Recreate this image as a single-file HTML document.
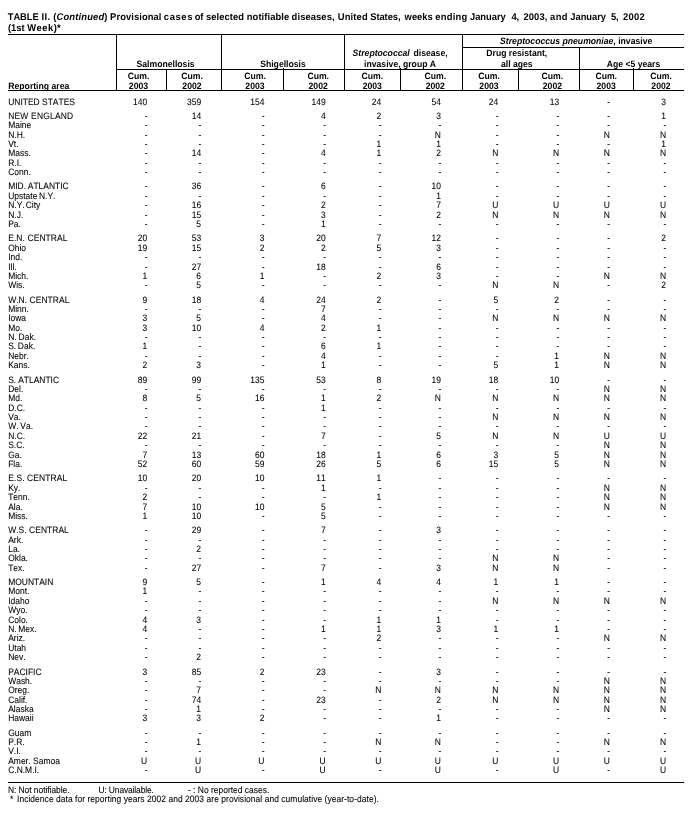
<!DOCTYPE html>
<html><head><meta charset="utf-8"><title>TABLE II</title>
<style>
html,body{margin:0;padding:0;background:#fff}
body{width:695px;height:814px;position:relative;overflow:hidden;font-family:"Liberation Sans",Arial,Helvetica,sans-serif;color:#000;font-size:9.25px;line-height:12px;font-kerning:none;text-rendering:geometricPrecision;-webkit-text-stroke:0.08px #000}
.n,.c,.h,.t,.f{position:absolute;left:0;top:0;white-space:pre;transform-origin:0 0;height:12px}
.c{width:40px;text-align:right;transform-origin:40px 0}
.ln{position:absolute;background:#000}
.h{width:200px;text-align:center;font-weight:bold;font-size:9.2px;transform-origin:100.0px 0;-webkit-text-stroke:0}
.t{font-weight:bold;font-size:9.75px;-webkit-text-stroke:0}
.ra{text-align:left;transform-origin:0 0}
</style></head><body>
<span class="t" style="transform:translate(7.73px,12.00px) rotate(.05deg) scaleX(0.96);letter-spacing:-0.068px">TABLE</span> <span class="t" style="transform:translate(41.58px,12.00px) rotate(.05deg) scaleX(0.96);letter-spacing:0.400px">II.</span> <span class="t" style="transform:translate(53.18px,12.00px) rotate(.05deg) scaleX(0.96);letter-spacing:0.179px">(<i>Continued</i>)</span> <span class="t" style="transform:translate(110.09px,12.00px) rotate(.05deg) scaleX(0.96);letter-spacing:0.096px">Provisional</span> <span class="t" style="transform:translate(163.83px,12.00px) rotate(.05deg) scaleX(0.96);letter-spacing:0.671px">cases</span> <span class="t" style="transform:translate(194.86px,12.00px) rotate(.05deg) scaleX(0.96);letter-spacing:-0.300px">of</span> <span class="t" style="transform:translate(205.97px,12.00px) rotate(.05deg) scaleX(0.96);letter-spacing:0.076px">selected</span> <span class="t" style="transform:translate(246.79px,12.00px) rotate(.05deg) scaleX(0.96);letter-spacing:0.089px">notifiable</span> <span class="t" style="transform:translate(291.63px,12.00px) rotate(.05deg) scaleX(0.96);letter-spacing:0.098px">diseases,</span> <span class="t" style="transform:translate(337.78px,12.00px) rotate(.05deg) scaleX(0.96);letter-spacing:0.168px">United</span> <span class="t" style="transform:translate(370.28px,12.00px) rotate(.05deg) scaleX(0.96);letter-spacing:-0.078px">States,</span> <span class="t" style="transform:translate(404.57px,12.00px) rotate(.05deg) scaleX(0.96);letter-spacing:0.038px">weeks</span> <span class="t" style="transform:translate(435.38px,12.00px) rotate(.05deg) scaleX(0.96);letter-spacing:0.224px">ending</span> <span class="t" style="transform:translate(469.97px,12.00px) rotate(.05deg) scaleX(0.96);letter-spacing:-0.011px">January</span> <span class="t" style="transform:translate(511.56px,12.00px) rotate(.05deg) scaleX(0.96);letter-spacing:-0.300px">4,</span> <span class="t" style="transform:translate(523.46px,12.00px) rotate(.05deg) scaleX(0.96);letter-spacing:0.110px">2003,</span> <span class="t" style="transform:translate(550.12px,12.00px) rotate(.05deg) scaleX(0.96);letter-spacing:0.355px">and</span> <span class="t" style="transform:translate(570.37px,12.00px) rotate(.05deg) scaleX(0.96);letter-spacing:-0.054px">January</span> <span class="t" style="transform:translate(611.06px,12.00px) rotate(.05deg) scaleX(0.96);letter-spacing:-0.300px">5,</span> <span class="t" style="transform:translate(623.06px,12.00px) rotate(.05deg) scaleX(0.96);letter-spacing:0.285px">2002</span>
<span class="t" style="transform:translate(7.90px,23.00px) rotate(.05deg) scaleX(0.96)">(1st</span> <span class="t" style="transform:translate(27.30px,23.00px) rotate(.05deg) scaleX(0.96);letter-spacing:.5px">Week)</span><span class="t" style="transform:translate(57.00px,23.00px) rotate(.05deg) scaleX(0.96)">*</span>
<div class="ln" style="left:8px;top:34px;width:676px;height:1px"></div>
<div class="ln" style="left:8px;top:90px;width:676px;height:1px"></div>
<div class="ln" style="left:116px;top:69px;width:568px;height:1px"></div>
<div class="ln" style="left:462px;top:47px;width:222px;height:1px"></div>
<div class="ln" style="left:8px;top:782px;width:676px;height:1px"></div>
<div class="ln" style="left:116px;top:34px;width:1px;height:57px"></div>
<div class="ln" style="left:221px;top:34px;width:1px;height:57px"></div>
<div class="ln" style="left:344px;top:34px;width:1px;height:57px"></div>
<div class="ln" style="left:462px;top:34px;width:1px;height:57px"></div>
<div class="ln" style="left:579px;top:47px;width:1px;height:44px"></div>
<div class="ln" style="left:166px;top:69px;width:1px;height:22px"></div>
<div class="ln" style="left:283px;top:68px;width:1px;height:23px"></div>
<div class="ln" style="left:400px;top:68px;width:1px;height:23px"></div>
<div class="ln" style="left:518px;top:68px;width:1px;height:23px"></div>
<div class="ln" style="left:633px;top:68px;width:1px;height:23px"></div>
<div class="h" style="transform:translate(65.60px,58.00px) rotate(.05deg) scaleX(0.94)">Salmonellosis</div>
<div class="h" style="transform:translate(183.00px,58.00px) rotate(.05deg) scaleX(0.94)">Shigellosis</div>
<div class="h" style="transform:translate(300.10px,47.00px) rotate(.05deg) scaleX(0.94);word-spacing:1.5px"><i>Streptococcal</i> disease,</div>
<div class="h" style="transform:translate(300.10px,58.00px) rotate(.05deg) scaleX(0.94)">invasive, group A</div>
<div class="h" style="transform:translate(476.20px,35.00px) rotate(.05deg) scaleX(0.94)"><i>Streptococcus pneumoniae</i>, invasive</div>
<div class="h" style="transform:translate(416.80px,47.00px) rotate(.05deg) scaleX(0.94)">Drug resistant,</div>
<div class="h" style="transform:translate(416.80px,58.00px) rotate(.05deg) scaleX(0.94)">all ages</div>
<div class="h" style="transform:translate(533.50px,58.00px) rotate(.05deg) scaleX(0.94)">Age &lt;5 years</div>
<div class="h" style="transform:translate(38.50px,70.00px) rotate(.05deg) scaleX(0.94)">Cum.</div>
<div class="h" style="transform:translate(38.50px,80.00px) rotate(.05deg) scaleX(0.94)">2003</div>
<div class="h" style="transform:translate(92.00px,70.00px) rotate(.05deg) scaleX(0.94)">Cum.</div>
<div class="h" style="transform:translate(92.00px,80.00px) rotate(.05deg) scaleX(0.94)">2002</div>
<div class="h" style="transform:translate(155.00px,70.00px) rotate(.05deg) scaleX(0.94)">Cum.</div>
<div class="h" style="transform:translate(155.00px,80.00px) rotate(.05deg) scaleX(0.94)">2003</div>
<div class="h" style="transform:translate(218.20px,70.00px) rotate(.05deg) scaleX(0.94)">Cum.</div>
<div class="h" style="transform:translate(218.20px,80.00px) rotate(.05deg) scaleX(0.94)">2002</div>
<div class="h" style="transform:translate(272.30px,70.00px) rotate(.05deg) scaleX(0.94)">Cum.</div>
<div class="h" style="transform:translate(272.30px,80.00px) rotate(.05deg) scaleX(0.94)">2003</div>
<div class="h" style="transform:translate(335.30px,70.00px) rotate(.05deg) scaleX(0.94)">Cum.</div>
<div class="h" style="transform:translate(335.30px,80.00px) rotate(.05deg) scaleX(0.94)">2002</div>
<div class="h" style="transform:translate(389.00px,70.00px) rotate(.05deg) scaleX(0.94)">Cum.</div>
<div class="h" style="transform:translate(389.00px,80.00px) rotate(.05deg) scaleX(0.94)">2003</div>
<div class="h" style="transform:translate(452.40px,70.00px) rotate(.05deg) scaleX(0.94)">Cum.</div>
<div class="h" style="transform:translate(452.40px,80.00px) rotate(.05deg) scaleX(0.94)">2002</div>
<div class="h" style="transform:translate(506.20px,70.00px) rotate(.05deg) scaleX(0.94)">Cum.</div>
<div class="h" style="transform:translate(506.20px,80.00px) rotate(.05deg) scaleX(0.94)">2003</div>
<div class="h" style="transform:translate(561.00px,70.00px) rotate(.05deg) scaleX(0.94)">Cum.</div>
<div class="h" style="transform:translate(561.00px,80.00px) rotate(.05deg) scaleX(0.94)">2002</div>
<div class="h ra" style="transform:translate(8.30px,80.00px) rotate(.05deg) scaleX(0.94)">Reporting area</div>
<span class="n" style="transform:translate(8.20px,96.00px) rotate(.05deg) scaleX(0.915)">UNITED STATES</span> <span class="c" style="transform:translate(107.20px,96.00px) rotate(.05deg) scaleX(0.915)">140</span> <span class="c" style="transform:translate(161.10px,96.00px) rotate(.05deg) scaleX(0.915)">359</span> <span class="c" style="transform:translate(224.40px,96.00px) rotate(.05deg) scaleX(0.915)">154</span> <span class="c" style="transform:translate(285.70px,96.00px) rotate(.05deg) scaleX(0.915)">149</span> <span class="c" style="transform:translate(341.30px,96.00px) rotate(.05deg) scaleX(0.915)">24</span> <span class="c" style="transform:translate(401.00px,96.00px) rotate(.05deg) scaleX(0.915)">54</span> <span class="c" style="transform:translate(458.30px,96.00px) rotate(.05deg) scaleX(0.915)">24</span> <span class="c" style="transform:translate(519.10px,96.00px) rotate(.05deg) scaleX(0.915)">13</span> <span class="c" style="transform:translate(570.20px,96.00px) rotate(.05deg) scaleX(0.915)">-</span> <span class="c" style="transform:translate(626.10px,96.00px) rotate(.05deg) scaleX(0.915)">3</span>
<span class="n" style="transform:translate(8.20px,110.00px) rotate(.05deg) scaleX(0.915);letter-spacing:0.219px">NEW ENGLAND</span> <span class="c" style="transform:translate(107.50px,110.00px) rotate(.05deg) scaleX(0.915)">-</span> <span class="c" style="transform:translate(161.10px,110.00px) rotate(.05deg) scaleX(0.915)">14</span> <span class="c" style="transform:translate(224.70px,110.00px) rotate(.05deg) scaleX(0.915)">-</span> <span class="c" style="transform:translate(285.70px,110.00px) rotate(.05deg) scaleX(0.915)">4</span> <span class="c" style="transform:translate(341.30px,110.00px) rotate(.05deg) scaleX(0.915)">2</span> <span class="c" style="transform:translate(401.00px,110.00px) rotate(.05deg) scaleX(0.915)">3</span> <span class="c" style="transform:translate(458.60px,110.00px) rotate(.05deg) scaleX(0.915)">-</span> <span class="c" style="transform:translate(519.40px,110.00px) rotate(.05deg) scaleX(0.915)">-</span> <span class="c" style="transform:translate(570.20px,110.00px) rotate(.05deg) scaleX(0.915)">-</span> <span class="c" style="transform:translate(626.10px,110.00px) rotate(.05deg) scaleX(0.915)">1</span>
<span class="n" style="transform:translate(8.20px,119.00px) rotate(.05deg) scaleX(0.915)">Maine</span> <span class="c" style="transform:translate(107.50px,119.00px) rotate(.05deg) scaleX(0.915)">-</span> <span class="c" style="transform:translate(161.40px,119.00px) rotate(.05deg) scaleX(0.915)">-</span> <span class="c" style="transform:translate(224.70px,119.00px) rotate(.05deg) scaleX(0.915)">-</span> <span class="c" style="transform:translate(286.00px,119.00px) rotate(.05deg) scaleX(0.915)">-</span> <span class="c" style="transform:translate(341.60px,119.00px) rotate(.05deg) scaleX(0.915)">-</span> <span class="c" style="transform:translate(401.30px,119.00px) rotate(.05deg) scaleX(0.915)">-</span> <span class="c" style="transform:translate(458.60px,119.00px) rotate(.05deg) scaleX(0.915)">-</span> <span class="c" style="transform:translate(519.40px,119.00px) rotate(.05deg) scaleX(0.915)">-</span> <span class="c" style="transform:translate(570.20px,119.00px) rotate(.05deg) scaleX(0.915)">-</span> <span class="c" style="transform:translate(626.40px,119.00px) rotate(.05deg) scaleX(0.915)">-</span>
<span class="n" style="transform:translate(8.20px,129.00px) rotate(.05deg) scaleX(0.915)">N.H.</span> <span class="c" style="transform:translate(107.50px,129.00px) rotate(.05deg) scaleX(0.915)">-</span> <span class="c" style="transform:translate(161.40px,129.00px) rotate(.05deg) scaleX(0.915)">-</span> <span class="c" style="transform:translate(224.70px,129.00px) rotate(.05deg) scaleX(0.915)">-</span> <span class="c" style="transform:translate(286.00px,129.00px) rotate(.05deg) scaleX(0.915)">-</span> <span class="c" style="transform:translate(341.60px,129.00px) rotate(.05deg) scaleX(0.915)">-</span> <span class="c" style="transform:translate(401.00px,129.00px) rotate(.05deg) scaleX(0.915)">N</span> <span class="c" style="transform:translate(458.60px,129.00px) rotate(.05deg) scaleX(0.915)">-</span> <span class="c" style="transform:translate(519.40px,129.00px) rotate(.05deg) scaleX(0.915)">-</span> <span class="c" style="transform:translate(569.90px,129.00px) rotate(.05deg) scaleX(0.915)">N</span> <span class="c" style="transform:translate(626.10px,129.00px) rotate(.05deg) scaleX(0.915)">N</span>
<span class="n" style="transform:translate(8.20px,138.00px) rotate(.05deg) scaleX(0.915)">Vt.</span> <span class="c" style="transform:translate(107.50px,138.00px) rotate(.05deg) scaleX(0.915)">-</span> <span class="c" style="transform:translate(161.40px,138.00px) rotate(.05deg) scaleX(0.915)">-</span> <span class="c" style="transform:translate(224.70px,138.00px) rotate(.05deg) scaleX(0.915)">-</span> <span class="c" style="transform:translate(286.00px,138.00px) rotate(.05deg) scaleX(0.915)">-</span> <span class="c" style="transform:translate(341.30px,138.00px) rotate(.05deg) scaleX(0.915)">1</span> <span class="c" style="transform:translate(401.00px,138.00px) rotate(.05deg) scaleX(0.915)">1</span> <span class="c" style="transform:translate(458.60px,138.00px) rotate(.05deg) scaleX(0.915)">-</span> <span class="c" style="transform:translate(519.40px,138.00px) rotate(.05deg) scaleX(0.915)">-</span> <span class="c" style="transform:translate(570.20px,138.00px) rotate(.05deg) scaleX(0.915)">-</span> <span class="c" style="transform:translate(626.10px,138.00px) rotate(.05deg) scaleX(0.915)">1</span>
<span class="n" style="transform:translate(8.20px,147.00px) rotate(.05deg) scaleX(0.915)">Mass.</span> <span class="c" style="transform:translate(107.50px,147.00px) rotate(.05deg) scaleX(0.915)">-</span> <span class="c" style="transform:translate(161.10px,147.00px) rotate(.05deg) scaleX(0.915)">14</span> <span class="c" style="transform:translate(224.70px,147.00px) rotate(.05deg) scaleX(0.915)">-</span> <span class="c" style="transform:translate(285.70px,147.00px) rotate(.05deg) scaleX(0.915)">4</span> <span class="c" style="transform:translate(341.30px,147.00px) rotate(.05deg) scaleX(0.915)">1</span> <span class="c" style="transform:translate(401.00px,147.00px) rotate(.05deg) scaleX(0.915)">2</span> <span class="c" style="transform:translate(458.30px,147.00px) rotate(.05deg) scaleX(0.915)">N</span> <span class="c" style="transform:translate(519.10px,147.00px) rotate(.05deg) scaleX(0.915)">N</span> <span class="c" style="transform:translate(569.90px,147.00px) rotate(.05deg) scaleX(0.915)">N</span> <span class="c" style="transform:translate(626.10px,147.00px) rotate(.05deg) scaleX(0.915)">N</span>
<span class="n" style="transform:translate(8.20px,157.00px) rotate(.05deg) scaleX(0.915)">R.I.</span> <span class="c" style="transform:translate(107.50px,157.00px) rotate(.05deg) scaleX(0.915)">-</span> <span class="c" style="transform:translate(161.40px,157.00px) rotate(.05deg) scaleX(0.915)">-</span> <span class="c" style="transform:translate(224.70px,157.00px) rotate(.05deg) scaleX(0.915)">-</span> <span class="c" style="transform:translate(286.00px,157.00px) rotate(.05deg) scaleX(0.915)">-</span> <span class="c" style="transform:translate(341.60px,157.00px) rotate(.05deg) scaleX(0.915)">-</span> <span class="c" style="transform:translate(401.30px,157.00px) rotate(.05deg) scaleX(0.915)">-</span> <span class="c" style="transform:translate(458.60px,157.00px) rotate(.05deg) scaleX(0.915)">-</span> <span class="c" style="transform:translate(519.40px,157.00px) rotate(.05deg) scaleX(0.915)">-</span> <span class="c" style="transform:translate(570.20px,157.00px) rotate(.05deg) scaleX(0.915)">-</span> <span class="c" style="transform:translate(626.40px,157.00px) rotate(.05deg) scaleX(0.915)">-</span>
<span class="n" style="transform:translate(8.20px,166.00px) rotate(.05deg) scaleX(0.915)">Conn.</span> <span class="c" style="transform:translate(107.50px,166.00px) rotate(.05deg) scaleX(0.915)">-</span> <span class="c" style="transform:translate(161.40px,166.00px) rotate(.05deg) scaleX(0.915)">-</span> <span class="c" style="transform:translate(224.70px,166.00px) rotate(.05deg) scaleX(0.915)">-</span> <span class="c" style="transform:translate(286.00px,166.00px) rotate(.05deg) scaleX(0.915)">-</span> <span class="c" style="transform:translate(341.60px,166.00px) rotate(.05deg) scaleX(0.915)">-</span> <span class="c" style="transform:translate(401.30px,166.00px) rotate(.05deg) scaleX(0.915)">-</span> <span class="c" style="transform:translate(458.60px,166.00px) rotate(.05deg) scaleX(0.915)">-</span> <span class="c" style="transform:translate(519.40px,166.00px) rotate(.05deg) scaleX(0.915)">-</span> <span class="c" style="transform:translate(570.20px,166.00px) rotate(.05deg) scaleX(0.915)">-</span> <span class="c" style="transform:translate(626.40px,166.00px) rotate(.05deg) scaleX(0.915)">-</span>
<span class="n" style="transform:translate(8.20px,180.00px) rotate(.05deg) scaleX(0.915);word-spacing:-0.66px">MID. ATLANTIC</span> <span class="c" style="transform:translate(107.50px,180.00px) rotate(.05deg) scaleX(0.915)">-</span> <span class="c" style="transform:translate(161.10px,180.00px) rotate(.05deg) scaleX(0.915)">36</span> <span class="c" style="transform:translate(224.70px,180.00px) rotate(.05deg) scaleX(0.915)">-</span> <span class="c" style="transform:translate(285.70px,180.00px) rotate(.05deg) scaleX(0.915)">6</span> <span class="c" style="transform:translate(341.60px,180.00px) rotate(.05deg) scaleX(0.915)">-</span> <span class="c" style="transform:translate(401.00px,180.00px) rotate(.05deg) scaleX(0.915)">10</span> <span class="c" style="transform:translate(458.60px,180.00px) rotate(.05deg) scaleX(0.915)">-</span> <span class="c" style="transform:translate(519.40px,180.00px) rotate(.05deg) scaleX(0.915)">-</span> <span class="c" style="transform:translate(570.20px,180.00px) rotate(.05deg) scaleX(0.915)">-</span> <span class="c" style="transform:translate(626.40px,180.00px) rotate(.05deg) scaleX(0.915)">-</span>
<span class="n" style="transform:translate(8.20px,190.00px) rotate(.05deg) scaleX(0.915);word-spacing:-0.87px">Upstate N.Y.</span> <span class="c" style="transform:translate(107.50px,190.00px) rotate(.05deg) scaleX(0.915)">-</span> <span class="c" style="transform:translate(161.40px,190.00px) rotate(.05deg) scaleX(0.915)">-</span> <span class="c" style="transform:translate(224.70px,190.00px) rotate(.05deg) scaleX(0.915)">-</span> <span class="c" style="transform:translate(286.00px,190.00px) rotate(.05deg) scaleX(0.915)">-</span> <span class="c" style="transform:translate(341.60px,190.00px) rotate(.05deg) scaleX(0.915)">-</span> <span class="c" style="transform:translate(401.00px,190.00px) rotate(.05deg) scaleX(0.915)">1</span> <span class="c" style="transform:translate(458.60px,190.00px) rotate(.05deg) scaleX(0.915)">-</span> <span class="c" style="transform:translate(519.40px,190.00px) rotate(.05deg) scaleX(0.915)">-</span> <span class="c" style="transform:translate(570.20px,190.00px) rotate(.05deg) scaleX(0.915)">-</span> <span class="c" style="transform:translate(626.40px,190.00px) rotate(.05deg) scaleX(0.915)">-</span>
<span class="n" style="transform:translate(8.20px,199.00px) rotate(.05deg) scaleX(0.915);word-spacing:-1.42px">N.Y. City</span> <span class="c" style="transform:translate(107.50px,199.00px) rotate(.05deg) scaleX(0.915)">-</span> <span class="c" style="transform:translate(161.10px,199.00px) rotate(.05deg) scaleX(0.915)">16</span> <span class="c" style="transform:translate(224.70px,199.00px) rotate(.05deg) scaleX(0.915)">-</span> <span class="c" style="transform:translate(285.70px,199.00px) rotate(.05deg) scaleX(0.915)">2</span> <span class="c" style="transform:translate(341.60px,199.00px) rotate(.05deg) scaleX(0.915)">-</span> <span class="c" style="transform:translate(401.00px,199.00px) rotate(.05deg) scaleX(0.915)">7</span> <span class="c" style="transform:translate(458.30px,199.00px) rotate(.05deg) scaleX(0.915)">U</span> <span class="c" style="transform:translate(519.10px,199.00px) rotate(.05deg) scaleX(0.915)">U</span> <span class="c" style="transform:translate(569.90px,199.00px) rotate(.05deg) scaleX(0.915)">U</span> <span class="c" style="transform:translate(626.10px,199.00px) rotate(.05deg) scaleX(0.915)">U</span>
<span class="n" style="transform:translate(8.20px,209.00px) rotate(.05deg) scaleX(0.915)">N.J.</span> <span class="c" style="transform:translate(107.50px,209.00px) rotate(.05deg) scaleX(0.915)">-</span> <span class="c" style="transform:translate(161.10px,209.00px) rotate(.05deg) scaleX(0.915)">15</span> <span class="c" style="transform:translate(224.70px,209.00px) rotate(.05deg) scaleX(0.915)">-</span> <span class="c" style="transform:translate(285.70px,209.00px) rotate(.05deg) scaleX(0.915)">3</span> <span class="c" style="transform:translate(341.60px,209.00px) rotate(.05deg) scaleX(0.915)">-</span> <span class="c" style="transform:translate(401.00px,209.00px) rotate(.05deg) scaleX(0.915)">2</span> <span class="c" style="transform:translate(458.30px,209.00px) rotate(.05deg) scaleX(0.915)">N</span> <span class="c" style="transform:translate(519.10px,209.00px) rotate(.05deg) scaleX(0.915)">N</span> <span class="c" style="transform:translate(569.90px,209.00px) rotate(.05deg) scaleX(0.915)">N</span> <span class="c" style="transform:translate(626.10px,209.00px) rotate(.05deg) scaleX(0.915)">N</span>
<span class="n" style="transform:translate(8.20px,218.00px) rotate(.05deg) scaleX(0.915)">Pa.</span> <span class="c" style="transform:translate(107.50px,218.00px) rotate(.05deg) scaleX(0.915)">-</span> <span class="c" style="transform:translate(161.10px,218.00px) rotate(.05deg) scaleX(0.915)">5</span> <span class="c" style="transform:translate(224.70px,218.00px) rotate(.05deg) scaleX(0.915)">-</span> <span class="c" style="transform:translate(285.70px,218.00px) rotate(.05deg) scaleX(0.915)">1</span> <span class="c" style="transform:translate(341.60px,218.00px) rotate(.05deg) scaleX(0.915)">-</span> <span class="c" style="transform:translate(401.30px,218.00px) rotate(.05deg) scaleX(0.915)">-</span> <span class="c" style="transform:translate(458.60px,218.00px) rotate(.05deg) scaleX(0.915)">-</span> <span class="c" style="transform:translate(519.40px,218.00px) rotate(.05deg) scaleX(0.915)">-</span> <span class="c" style="transform:translate(570.20px,218.00px) rotate(.05deg) scaleX(0.915)">-</span> <span class="c" style="transform:translate(626.40px,218.00px) rotate(.05deg) scaleX(0.915)">-</span>
<span class="n" style="transform:translate(8.20px,232.00px) rotate(.05deg) scaleX(0.915);letter-spacing:0.099px">E.N. CENTRAL</span> <span class="c" style="transform:translate(107.20px,232.00px) rotate(.05deg) scaleX(0.915)">20</span> <span class="c" style="transform:translate(161.10px,232.00px) rotate(.05deg) scaleX(0.915)">53</span> <span class="c" style="transform:translate(224.40px,232.00px) rotate(.05deg) scaleX(0.915)">3</span> <span class="c" style="transform:translate(285.70px,232.00px) rotate(.05deg) scaleX(0.915)">20</span> <span class="c" style="transform:translate(341.30px,232.00px) rotate(.05deg) scaleX(0.915)">7</span> <span class="c" style="transform:translate(401.00px,232.00px) rotate(.05deg) scaleX(0.915)">12</span> <span class="c" style="transform:translate(458.60px,232.00px) rotate(.05deg) scaleX(0.915)">-</span> <span class="c" style="transform:translate(519.40px,232.00px) rotate(.05deg) scaleX(0.915)">-</span> <span class="c" style="transform:translate(570.20px,232.00px) rotate(.05deg) scaleX(0.915)">-</span> <span class="c" style="transform:translate(626.10px,232.00px) rotate(.05deg) scaleX(0.915)">2</span>
<span class="n" style="transform:translate(8.20px,242.00px) rotate(.05deg) scaleX(0.915)">Ohio</span> <span class="c" style="transform:translate(107.20px,242.00px) rotate(.05deg) scaleX(0.915)">19</span> <span class="c" style="transform:translate(161.10px,242.00px) rotate(.05deg) scaleX(0.915)">15</span> <span class="c" style="transform:translate(224.40px,242.00px) rotate(.05deg) scaleX(0.915)">2</span> <span class="c" style="transform:translate(285.70px,242.00px) rotate(.05deg) scaleX(0.915)">2</span> <span class="c" style="transform:translate(341.30px,242.00px) rotate(.05deg) scaleX(0.915)">5</span> <span class="c" style="transform:translate(401.00px,242.00px) rotate(.05deg) scaleX(0.915)">3</span> <span class="c" style="transform:translate(458.60px,242.00px) rotate(.05deg) scaleX(0.915)">-</span> <span class="c" style="transform:translate(519.40px,242.00px) rotate(.05deg) scaleX(0.915)">-</span> <span class="c" style="transform:translate(570.20px,242.00px) rotate(.05deg) scaleX(0.915)">-</span> <span class="c" style="transform:translate(626.40px,242.00px) rotate(.05deg) scaleX(0.915)">-</span>
<span class="n" style="transform:translate(8.20px,251.00px) rotate(.05deg) scaleX(0.915)">Ind.</span> <span class="c" style="transform:translate(107.50px,251.00px) rotate(.05deg) scaleX(0.915)">-</span> <span class="c" style="transform:translate(161.40px,251.00px) rotate(.05deg) scaleX(0.915)">-</span> <span class="c" style="transform:translate(224.70px,251.00px) rotate(.05deg) scaleX(0.915)">-</span> <span class="c" style="transform:translate(286.00px,251.00px) rotate(.05deg) scaleX(0.915)">-</span> <span class="c" style="transform:translate(341.60px,251.00px) rotate(.05deg) scaleX(0.915)">-</span> <span class="c" style="transform:translate(401.30px,251.00px) rotate(.05deg) scaleX(0.915)">-</span> <span class="c" style="transform:translate(458.60px,251.00px) rotate(.05deg) scaleX(0.915)">-</span> <span class="c" style="transform:translate(519.40px,251.00px) rotate(.05deg) scaleX(0.915)">-</span> <span class="c" style="transform:translate(570.20px,251.00px) rotate(.05deg) scaleX(0.915)">-</span> <span class="c" style="transform:translate(626.40px,251.00px) rotate(.05deg) scaleX(0.915)">-</span>
<span class="n" style="transform:translate(8.20px,261.00px) rotate(.05deg) scaleX(0.915)">Ill.</span> <span class="c" style="transform:translate(107.50px,261.00px) rotate(.05deg) scaleX(0.915)">-</span> <span class="c" style="transform:translate(161.10px,261.00px) rotate(.05deg) scaleX(0.915)">27</span> <span class="c" style="transform:translate(224.70px,261.00px) rotate(.05deg) scaleX(0.915)">-</span> <span class="c" style="transform:translate(285.70px,261.00px) rotate(.05deg) scaleX(0.915)">18</span> <span class="c" style="transform:translate(341.60px,261.00px) rotate(.05deg) scaleX(0.915)">-</span> <span class="c" style="transform:translate(401.00px,261.00px) rotate(.05deg) scaleX(0.915)">6</span> <span class="c" style="transform:translate(458.60px,261.00px) rotate(.05deg) scaleX(0.915)">-</span> <span class="c" style="transform:translate(519.40px,261.00px) rotate(.05deg) scaleX(0.915)">-</span> <span class="c" style="transform:translate(570.20px,261.00px) rotate(.05deg) scaleX(0.915)">-</span> <span class="c" style="transform:translate(626.40px,261.00px) rotate(.05deg) scaleX(0.915)">-</span>
<span class="n" style="transform:translate(8.20px,270.00px) rotate(.05deg) scaleX(0.915)">Mich.</span> <span class="c" style="transform:translate(107.20px,270.00px) rotate(.05deg) scaleX(0.915)">1</span> <span class="c" style="transform:translate(161.10px,270.00px) rotate(.05deg) scaleX(0.915)">6</span> <span class="c" style="transform:translate(224.40px,270.00px) rotate(.05deg) scaleX(0.915)">1</span> <span class="c" style="transform:translate(286.00px,270.00px) rotate(.05deg) scaleX(0.915)">-</span> <span class="c" style="transform:translate(341.30px,270.00px) rotate(.05deg) scaleX(0.915)">2</span> <span class="c" style="transform:translate(401.00px,270.00px) rotate(.05deg) scaleX(0.915)">3</span> <span class="c" style="transform:translate(458.60px,270.00px) rotate(.05deg) scaleX(0.915)">-</span> <span class="c" style="transform:translate(519.40px,270.00px) rotate(.05deg) scaleX(0.915)">-</span> <span class="c" style="transform:translate(569.90px,270.00px) rotate(.05deg) scaleX(0.915)">N</span> <span class="c" style="transform:translate(626.10px,270.00px) rotate(.05deg) scaleX(0.915)">N</span>
<span class="n" style="transform:translate(8.20px,279.00px) rotate(.05deg) scaleX(0.915)">Wis.</span> <span class="c" style="transform:translate(107.50px,279.00px) rotate(.05deg) scaleX(0.915)">-</span> <span class="c" style="transform:translate(161.10px,279.00px) rotate(.05deg) scaleX(0.915)">5</span> <span class="c" style="transform:translate(224.70px,279.00px) rotate(.05deg) scaleX(0.915)">-</span> <span class="c" style="transform:translate(286.00px,279.00px) rotate(.05deg) scaleX(0.915)">-</span> <span class="c" style="transform:translate(341.60px,279.00px) rotate(.05deg) scaleX(0.915)">-</span> <span class="c" style="transform:translate(401.30px,279.00px) rotate(.05deg) scaleX(0.915)">-</span> <span class="c" style="transform:translate(458.30px,279.00px) rotate(.05deg) scaleX(0.915)">N</span> <span class="c" style="transform:translate(519.10px,279.00px) rotate(.05deg) scaleX(0.915)">N</span> <span class="c" style="transform:translate(570.20px,279.00px) rotate(.05deg) scaleX(0.915)">-</span> <span class="c" style="transform:translate(626.10px,279.00px) rotate(.05deg) scaleX(0.915)">2</span>
<span class="n" style="transform:translate(8.20px,294.00px) rotate(.05deg) scaleX(0.915);letter-spacing:0.050px">W.N. CENTRAL</span> <span class="c" style="transform:translate(107.20px,294.00px) rotate(.05deg) scaleX(0.915)">9</span> <span class="c" style="transform:translate(161.10px,294.00px) rotate(.05deg) scaleX(0.915)">18</span> <span class="c" style="transform:translate(224.40px,294.00px) rotate(.05deg) scaleX(0.915)">4</span> <span class="c" style="transform:translate(285.70px,294.00px) rotate(.05deg) scaleX(0.915)">24</span> <span class="c" style="transform:translate(341.30px,294.00px) rotate(.05deg) scaleX(0.915)">2</span> <span class="c" style="transform:translate(401.30px,294.00px) rotate(.05deg) scaleX(0.915)">-</span> <span class="c" style="transform:translate(458.30px,294.00px) rotate(.05deg) scaleX(0.915)">5</span> <span class="c" style="transform:translate(519.10px,294.00px) rotate(.05deg) scaleX(0.915)">2</span> <span class="c" style="transform:translate(570.20px,294.00px) rotate(.05deg) scaleX(0.915)">-</span> <span class="c" style="transform:translate(626.40px,294.00px) rotate(.05deg) scaleX(0.915)">-</span>
<span class="n" style="transform:translate(8.20px,303.00px) rotate(.05deg) scaleX(0.915)">Minn.</span> <span class="c" style="transform:translate(107.50px,303.00px) rotate(.05deg) scaleX(0.915)">-</span> <span class="c" style="transform:translate(161.40px,303.00px) rotate(.05deg) scaleX(0.915)">-</span> <span class="c" style="transform:translate(224.70px,303.00px) rotate(.05deg) scaleX(0.915)">-</span> <span class="c" style="transform:translate(285.70px,303.00px) rotate(.05deg) scaleX(0.915)">7</span> <span class="c" style="transform:translate(341.60px,303.00px) rotate(.05deg) scaleX(0.915)">-</span> <span class="c" style="transform:translate(401.30px,303.00px) rotate(.05deg) scaleX(0.915)">-</span> <span class="c" style="transform:translate(458.60px,303.00px) rotate(.05deg) scaleX(0.915)">-</span> <span class="c" style="transform:translate(519.40px,303.00px) rotate(.05deg) scaleX(0.915)">-</span> <span class="c" style="transform:translate(570.20px,303.00px) rotate(.05deg) scaleX(0.915)">-</span> <span class="c" style="transform:translate(626.40px,303.00px) rotate(.05deg) scaleX(0.915)">-</span>
<span class="n" style="transform:translate(8.20px,312.00px) rotate(.05deg) scaleX(0.915)">Iowa</span> <span class="c" style="transform:translate(107.20px,312.00px) rotate(.05deg) scaleX(0.915)">3</span> <span class="c" style="transform:translate(161.10px,312.00px) rotate(.05deg) scaleX(0.915)">5</span> <span class="c" style="transform:translate(224.70px,312.00px) rotate(.05deg) scaleX(0.915)">-</span> <span class="c" style="transform:translate(285.70px,312.00px) rotate(.05deg) scaleX(0.915)">4</span> <span class="c" style="transform:translate(341.60px,312.00px) rotate(.05deg) scaleX(0.915)">-</span> <span class="c" style="transform:translate(401.30px,312.00px) rotate(.05deg) scaleX(0.915)">-</span> <span class="c" style="transform:translate(458.30px,312.00px) rotate(.05deg) scaleX(0.915)">N</span> <span class="c" style="transform:translate(519.10px,312.00px) rotate(.05deg) scaleX(0.915)">N</span> <span class="c" style="transform:translate(569.90px,312.00px) rotate(.05deg) scaleX(0.915)">N</span> <span class="c" style="transform:translate(626.10px,312.00px) rotate(.05deg) scaleX(0.915)">N</span>
<span class="n" style="transform:translate(8.20px,322.00px) rotate(.05deg) scaleX(0.915)">Mo.</span> <span class="c" style="transform:translate(107.20px,322.00px) rotate(.05deg) scaleX(0.915)">3</span> <span class="c" style="transform:translate(161.10px,322.00px) rotate(.05deg) scaleX(0.915)">10</span> <span class="c" style="transform:translate(224.40px,322.00px) rotate(.05deg) scaleX(0.915)">4</span> <span class="c" style="transform:translate(285.70px,322.00px) rotate(.05deg) scaleX(0.915)">2</span> <span class="c" style="transform:translate(341.30px,322.00px) rotate(.05deg) scaleX(0.915)">1</span> <span class="c" style="transform:translate(401.30px,322.00px) rotate(.05deg) scaleX(0.915)">-</span> <span class="c" style="transform:translate(458.60px,322.00px) rotate(.05deg) scaleX(0.915)">-</span> <span class="c" style="transform:translate(519.40px,322.00px) rotate(.05deg) scaleX(0.915)">-</span> <span class="c" style="transform:translate(570.20px,322.00px) rotate(.05deg) scaleX(0.915)">-</span> <span class="c" style="transform:translate(626.40px,322.00px) rotate(.05deg) scaleX(0.915)">-</span>
<span class="n" style="transform:translate(8.20px,331.00px) rotate(.05deg) scaleX(0.915);word-spacing:-0.44px">N. Dak.</span> <span class="c" style="transform:translate(107.50px,331.00px) rotate(.05deg) scaleX(0.915)">-</span> <span class="c" style="transform:translate(161.40px,331.00px) rotate(.05deg) scaleX(0.915)">-</span> <span class="c" style="transform:translate(224.70px,331.00px) rotate(.05deg) scaleX(0.915)">-</span> <span class="c" style="transform:translate(286.00px,331.00px) rotate(.05deg) scaleX(0.915)">-</span> <span class="c" style="transform:translate(341.60px,331.00px) rotate(.05deg) scaleX(0.915)">-</span> <span class="c" style="transform:translate(401.30px,331.00px) rotate(.05deg) scaleX(0.915)">-</span> <span class="c" style="transform:translate(458.60px,331.00px) rotate(.05deg) scaleX(0.915)">-</span> <span class="c" style="transform:translate(519.40px,331.00px) rotate(.05deg) scaleX(0.915)">-</span> <span class="c" style="transform:translate(570.20px,331.00px) rotate(.05deg) scaleX(0.915)">-</span> <span class="c" style="transform:translate(626.40px,331.00px) rotate(.05deg) scaleX(0.915)">-</span>
<span class="n" style="transform:translate(8.20px,340.00px) rotate(.05deg) scaleX(0.915);word-spacing:-0.77px">S. Dak.</span> <span class="c" style="transform:translate(107.20px,340.00px) rotate(.05deg) scaleX(0.915)">1</span> <span class="c" style="transform:translate(161.40px,340.00px) rotate(.05deg) scaleX(0.915)">-</span> <span class="c" style="transform:translate(224.70px,340.00px) rotate(.05deg) scaleX(0.915)">-</span> <span class="c" style="transform:translate(285.70px,340.00px) rotate(.05deg) scaleX(0.915)">6</span> <span class="c" style="transform:translate(341.30px,340.00px) rotate(.05deg) scaleX(0.915)">1</span> <span class="c" style="transform:translate(401.30px,340.00px) rotate(.05deg) scaleX(0.915)">-</span> <span class="c" style="transform:translate(458.60px,340.00px) rotate(.05deg) scaleX(0.915)">-</span> <span class="c" style="transform:translate(519.40px,340.00px) rotate(.05deg) scaleX(0.915)">-</span> <span class="c" style="transform:translate(570.20px,340.00px) rotate(.05deg) scaleX(0.915)">-</span> <span class="c" style="transform:translate(626.40px,340.00px) rotate(.05deg) scaleX(0.915)">-</span>
<span class="n" style="transform:translate(8.20px,350.00px) rotate(.05deg) scaleX(0.915)">Nebr.</span> <span class="c" style="transform:translate(107.50px,350.00px) rotate(.05deg) scaleX(0.915)">-</span> <span class="c" style="transform:translate(161.40px,350.00px) rotate(.05deg) scaleX(0.915)">-</span> <span class="c" style="transform:translate(224.70px,350.00px) rotate(.05deg) scaleX(0.915)">-</span> <span class="c" style="transform:translate(285.70px,350.00px) rotate(.05deg) scaleX(0.915)">4</span> <span class="c" style="transform:translate(341.60px,350.00px) rotate(.05deg) scaleX(0.915)">-</span> <span class="c" style="transform:translate(401.30px,350.00px) rotate(.05deg) scaleX(0.915)">-</span> <span class="c" style="transform:translate(458.60px,350.00px) rotate(.05deg) scaleX(0.915)">-</span> <span class="c" style="transform:translate(519.10px,350.00px) rotate(.05deg) scaleX(0.915)">1</span> <span class="c" style="transform:translate(569.90px,350.00px) rotate(.05deg) scaleX(0.915)">N</span> <span class="c" style="transform:translate(626.10px,350.00px) rotate(.05deg) scaleX(0.915)">N</span>
<span class="n" style="transform:translate(8.20px,359.00px) rotate(.05deg) scaleX(0.915)">Kans.</span> <span class="c" style="transform:translate(107.20px,359.00px) rotate(.05deg) scaleX(0.915)">2</span> <span class="c" style="transform:translate(161.10px,359.00px) rotate(.05deg) scaleX(0.915)">3</span> <span class="c" style="transform:translate(224.70px,359.00px) rotate(.05deg) scaleX(0.915)">-</span> <span class="c" style="transform:translate(285.70px,359.00px) rotate(.05deg) scaleX(0.915)">1</span> <span class="c" style="transform:translate(341.60px,359.00px) rotate(.05deg) scaleX(0.915)">-</span> <span class="c" style="transform:translate(401.30px,359.00px) rotate(.05deg) scaleX(0.915)">-</span> <span class="c" style="transform:translate(458.30px,359.00px) rotate(.05deg) scaleX(0.915)">5</span> <span class="c" style="transform:translate(519.10px,359.00px) rotate(.05deg) scaleX(0.915)">1</span> <span class="c" style="transform:translate(569.90px,359.00px) rotate(.05deg) scaleX(0.915)">N</span> <span class="c" style="transform:translate(626.10px,359.00px) rotate(.05deg) scaleX(0.915)">N</span>
<span class="n" style="transform:translate(8.20px,374.00px) rotate(.05deg) scaleX(0.915);word-spacing:-0.44px">S. ATLANTIC</span> <span class="c" style="transform:translate(107.20px,374.00px) rotate(.05deg) scaleX(0.915)">89</span> <span class="c" style="transform:translate(161.10px,374.00px) rotate(.05deg) scaleX(0.915)">99</span> <span class="c" style="transform:translate(224.40px,374.00px) rotate(.05deg) scaleX(0.915)">135</span> <span class="c" style="transform:translate(285.70px,374.00px) rotate(.05deg) scaleX(0.915)">53</span> <span class="c" style="transform:translate(341.30px,374.00px) rotate(.05deg) scaleX(0.915)">8</span> <span class="c" style="transform:translate(401.00px,374.00px) rotate(.05deg) scaleX(0.915)">19</span> <span class="c" style="transform:translate(458.30px,374.00px) rotate(.05deg) scaleX(0.915)">18</span> <span class="c" style="transform:translate(519.10px,374.00px) rotate(.05deg) scaleX(0.915)">10</span> <span class="c" style="transform:translate(570.20px,374.00px) rotate(.05deg) scaleX(0.915)">-</span> <span class="c" style="transform:translate(626.40px,374.00px) rotate(.05deg) scaleX(0.915)">-</span>
<span class="n" style="transform:translate(8.20px,383.00px) rotate(.05deg) scaleX(0.915)">Del.</span> <span class="c" style="transform:translate(107.50px,383.00px) rotate(.05deg) scaleX(0.915)">-</span> <span class="c" style="transform:translate(161.40px,383.00px) rotate(.05deg) scaleX(0.915)">-</span> <span class="c" style="transform:translate(224.70px,383.00px) rotate(.05deg) scaleX(0.915)">-</span> <span class="c" style="transform:translate(286.00px,383.00px) rotate(.05deg) scaleX(0.915)">-</span> <span class="c" style="transform:translate(341.60px,383.00px) rotate(.05deg) scaleX(0.915)">-</span> <span class="c" style="transform:translate(401.30px,383.00px) rotate(.05deg) scaleX(0.915)">-</span> <span class="c" style="transform:translate(458.60px,383.00px) rotate(.05deg) scaleX(0.915)">-</span> <span class="c" style="transform:translate(519.40px,383.00px) rotate(.05deg) scaleX(0.915)">-</span> <span class="c" style="transform:translate(569.90px,383.00px) rotate(.05deg) scaleX(0.915)">N</span> <span class="c" style="transform:translate(626.10px,383.00px) rotate(.05deg) scaleX(0.915)">N</span>
<span class="n" style="transform:translate(8.20px,392.00px) rotate(.05deg) scaleX(0.915)">Md.</span> <span class="c" style="transform:translate(107.20px,392.00px) rotate(.05deg) scaleX(0.915)">8</span> <span class="c" style="transform:translate(161.10px,392.00px) rotate(.05deg) scaleX(0.915)">5</span> <span class="c" style="transform:translate(224.40px,392.00px) rotate(.05deg) scaleX(0.915)">16</span> <span class="c" style="transform:translate(285.70px,392.00px) rotate(.05deg) scaleX(0.915)">1</span> <span class="c" style="transform:translate(341.30px,392.00px) rotate(.05deg) scaleX(0.915)">2</span> <span class="c" style="transform:translate(401.00px,392.00px) rotate(.05deg) scaleX(0.915)">N</span> <span class="c" style="transform:translate(458.30px,392.00px) rotate(.05deg) scaleX(0.915)">N</span> <span class="c" style="transform:translate(519.10px,392.00px) rotate(.05deg) scaleX(0.915)">N</span> <span class="c" style="transform:translate(569.90px,392.00px) rotate(.05deg) scaleX(0.915)">N</span> <span class="c" style="transform:translate(626.10px,392.00px) rotate(.05deg) scaleX(0.915)">N</span>
<span class="n" style="transform:translate(8.20px,402.00px) rotate(.05deg) scaleX(0.915)">D.C.</span> <span class="c" style="transform:translate(107.50px,402.00px) rotate(.05deg) scaleX(0.915)">-</span> <span class="c" style="transform:translate(161.40px,402.00px) rotate(.05deg) scaleX(0.915)">-</span> <span class="c" style="transform:translate(224.70px,402.00px) rotate(.05deg) scaleX(0.915)">-</span> <span class="c" style="transform:translate(285.70px,402.00px) rotate(.05deg) scaleX(0.915)">1</span> <span class="c" style="transform:translate(341.60px,402.00px) rotate(.05deg) scaleX(0.915)">-</span> <span class="c" style="transform:translate(401.30px,402.00px) rotate(.05deg) scaleX(0.915)">-</span> <span class="c" style="transform:translate(458.60px,402.00px) rotate(.05deg) scaleX(0.915)">-</span> <span class="c" style="transform:translate(519.40px,402.00px) rotate(.05deg) scaleX(0.915)">-</span> <span class="c" style="transform:translate(570.20px,402.00px) rotate(.05deg) scaleX(0.915)">-</span> <span class="c" style="transform:translate(626.40px,402.00px) rotate(.05deg) scaleX(0.915)">-</span>
<span class="n" style="transform:translate(8.20px,411.00px) rotate(.05deg) scaleX(0.915)">Va.</span> <span class="c" style="transform:translate(107.50px,411.00px) rotate(.05deg) scaleX(0.915)">-</span> <span class="c" style="transform:translate(161.40px,411.00px) rotate(.05deg) scaleX(0.915)">-</span> <span class="c" style="transform:translate(224.70px,411.00px) rotate(.05deg) scaleX(0.915)">-</span> <span class="c" style="transform:translate(286.00px,411.00px) rotate(.05deg) scaleX(0.915)">-</span> <span class="c" style="transform:translate(341.60px,411.00px) rotate(.05deg) scaleX(0.915)">-</span> <span class="c" style="transform:translate(401.30px,411.00px) rotate(.05deg) scaleX(0.915)">-</span> <span class="c" style="transform:translate(458.30px,411.00px) rotate(.05deg) scaleX(0.915)">N</span> <span class="c" style="transform:translate(519.10px,411.00px) rotate(.05deg) scaleX(0.915)">N</span> <span class="c" style="transform:translate(569.90px,411.00px) rotate(.05deg) scaleX(0.915)">N</span> <span class="c" style="transform:translate(626.10px,411.00px) rotate(.05deg) scaleX(0.915)">N</span>
<span class="n" style="transform:translate(8.20px,420.00px) rotate(.05deg) scaleX(0.915);word-spacing:-0.66px">W. Va.</span> <span class="c" style="transform:translate(107.50px,420.00px) rotate(.05deg) scaleX(0.915)">-</span> <span class="c" style="transform:translate(161.40px,420.00px) rotate(.05deg) scaleX(0.915)">-</span> <span class="c" style="transform:translate(224.70px,420.00px) rotate(.05deg) scaleX(0.915)">-</span> <span class="c" style="transform:translate(286.00px,420.00px) rotate(.05deg) scaleX(0.915)">-</span> <span class="c" style="transform:translate(341.60px,420.00px) rotate(.05deg) scaleX(0.915)">-</span> <span class="c" style="transform:translate(401.30px,420.00px) rotate(.05deg) scaleX(0.915)">-</span> <span class="c" style="transform:translate(458.60px,420.00px) rotate(.05deg) scaleX(0.915)">-</span> <span class="c" style="transform:translate(519.40px,420.00px) rotate(.05deg) scaleX(0.915)">-</span> <span class="c" style="transform:translate(570.20px,420.00px) rotate(.05deg) scaleX(0.915)">-</span> <span class="c" style="transform:translate(626.40px,420.00px) rotate(.05deg) scaleX(0.915)">-</span>
<span class="n" style="transform:translate(8.20px,430.00px) rotate(.05deg) scaleX(0.915)">N.C.</span> <span class="c" style="transform:translate(107.20px,430.00px) rotate(.05deg) scaleX(0.915)">22</span> <span class="c" style="transform:translate(161.10px,430.00px) rotate(.05deg) scaleX(0.915)">21</span> <span class="c" style="transform:translate(224.70px,430.00px) rotate(.05deg) scaleX(0.915)">-</span> <span class="c" style="transform:translate(285.70px,430.00px) rotate(.05deg) scaleX(0.915)">7</span> <span class="c" style="transform:translate(341.60px,430.00px) rotate(.05deg) scaleX(0.915)">-</span> <span class="c" style="transform:translate(401.00px,430.00px) rotate(.05deg) scaleX(0.915)">5</span> <span class="c" style="transform:translate(458.30px,430.00px) rotate(.05deg) scaleX(0.915)">N</span> <span class="c" style="transform:translate(519.10px,430.00px) rotate(.05deg) scaleX(0.915)">N</span> <span class="c" style="transform:translate(569.90px,430.00px) rotate(.05deg) scaleX(0.915)">U</span> <span class="c" style="transform:translate(626.10px,430.00px) rotate(.05deg) scaleX(0.915)">U</span>
<span class="n" style="transform:translate(8.20px,439.00px) rotate(.05deg) scaleX(0.915)">S.C.</span> <span class="c" style="transform:translate(107.50px,439.00px) rotate(.05deg) scaleX(0.915)">-</span> <span class="c" style="transform:translate(161.40px,439.00px) rotate(.05deg) scaleX(0.915)">-</span> <span class="c" style="transform:translate(224.70px,439.00px) rotate(.05deg) scaleX(0.915)">-</span> <span class="c" style="transform:translate(286.00px,439.00px) rotate(.05deg) scaleX(0.915)">-</span> <span class="c" style="transform:translate(341.60px,439.00px) rotate(.05deg) scaleX(0.915)">-</span> <span class="c" style="transform:translate(401.30px,439.00px) rotate(.05deg) scaleX(0.915)">-</span> <span class="c" style="transform:translate(458.60px,439.00px) rotate(.05deg) scaleX(0.915)">-</span> <span class="c" style="transform:translate(519.40px,439.00px) rotate(.05deg) scaleX(0.915)">-</span> <span class="c" style="transform:translate(569.90px,439.00px) rotate(.05deg) scaleX(0.915)">N</span> <span class="c" style="transform:translate(626.10px,439.00px) rotate(.05deg) scaleX(0.915)">N</span>
<span class="n" style="transform:translate(8.20px,449.00px) rotate(.05deg) scaleX(0.915)">Ga.</span> <span class="c" style="transform:translate(107.20px,449.00px) rotate(.05deg) scaleX(0.915)">7</span> <span class="c" style="transform:translate(161.10px,449.00px) rotate(.05deg) scaleX(0.915)">13</span> <span class="c" style="transform:translate(224.40px,449.00px) rotate(.05deg) scaleX(0.915)">60</span> <span class="c" style="transform:translate(285.70px,449.00px) rotate(.05deg) scaleX(0.915)">18</span> <span class="c" style="transform:translate(341.30px,449.00px) rotate(.05deg) scaleX(0.915)">1</span> <span class="c" style="transform:translate(401.00px,449.00px) rotate(.05deg) scaleX(0.915)">6</span> <span class="c" style="transform:translate(458.30px,449.00px) rotate(.05deg) scaleX(0.915)">3</span> <span class="c" style="transform:translate(519.10px,449.00px) rotate(.05deg) scaleX(0.915)">5</span> <span class="c" style="transform:translate(569.90px,449.00px) rotate(.05deg) scaleX(0.915)">N</span> <span class="c" style="transform:translate(626.10px,449.00px) rotate(.05deg) scaleX(0.915)">N</span>
<span class="n" style="transform:translate(8.20px,458.00px) rotate(.05deg) scaleX(0.915)">Fla.</span> <span class="c" style="transform:translate(107.20px,458.00px) rotate(.05deg) scaleX(0.915)">52</span> <span class="c" style="transform:translate(161.10px,458.00px) rotate(.05deg) scaleX(0.915)">60</span> <span class="c" style="transform:translate(224.40px,458.00px) rotate(.05deg) scaleX(0.915)">59</span> <span class="c" style="transform:translate(285.70px,458.00px) rotate(.05deg) scaleX(0.915)">26</span> <span class="c" style="transform:translate(341.30px,458.00px) rotate(.05deg) scaleX(0.915)">5</span> <span class="c" style="transform:translate(401.00px,458.00px) rotate(.05deg) scaleX(0.915)">6</span> <span class="c" style="transform:translate(458.30px,458.00px) rotate(.05deg) scaleX(0.915)">15</span> <span class="c" style="transform:translate(519.10px,458.00px) rotate(.05deg) scaleX(0.915)">5</span> <span class="c" style="transform:translate(569.90px,458.00px) rotate(.05deg) scaleX(0.915)">N</span> <span class="c" style="transform:translate(626.10px,458.00px) rotate(.05deg) scaleX(0.915)">N</span>
<span class="n" style="transform:translate(8.20px,472.00px) rotate(.05deg) scaleX(0.915);letter-spacing:0.119px">E.S. CENTRAL</span> <span class="c" style="transform:translate(107.20px,472.00px) rotate(.05deg) scaleX(0.915)">10</span> <span class="c" style="transform:translate(161.10px,472.00px) rotate(.05deg) scaleX(0.915)">20</span> <span class="c" style="transform:translate(224.40px,472.00px) rotate(.05deg) scaleX(0.915)">10</span> <span class="c" style="transform:translate(285.70px,472.00px) rotate(.05deg) scaleX(0.915)">11</span> <span class="c" style="transform:translate(341.30px,472.00px) rotate(.05deg) scaleX(0.915)">1</span> <span class="c" style="transform:translate(401.30px,472.00px) rotate(.05deg) scaleX(0.915)">-</span> <span class="c" style="transform:translate(458.60px,472.00px) rotate(.05deg) scaleX(0.915)">-</span> <span class="c" style="transform:translate(519.40px,472.00px) rotate(.05deg) scaleX(0.915)">-</span> <span class="c" style="transform:translate(570.20px,472.00px) rotate(.05deg) scaleX(0.915)">-</span> <span class="c" style="transform:translate(626.40px,472.00px) rotate(.05deg) scaleX(0.915)">-</span>
<span class="n" style="transform:translate(8.20px,482.00px) rotate(.05deg) scaleX(0.915)">Ky.</span> <span class="c" style="transform:translate(107.50px,482.00px) rotate(.05deg) scaleX(0.915)">-</span> <span class="c" style="transform:translate(161.40px,482.00px) rotate(.05deg) scaleX(0.915)">-</span> <span class="c" style="transform:translate(224.70px,482.00px) rotate(.05deg) scaleX(0.915)">-</span> <span class="c" style="transform:translate(285.70px,482.00px) rotate(.05deg) scaleX(0.915)">1</span> <span class="c" style="transform:translate(341.60px,482.00px) rotate(.05deg) scaleX(0.915)">-</span> <span class="c" style="transform:translate(401.30px,482.00px) rotate(.05deg) scaleX(0.915)">-</span> <span class="c" style="transform:translate(458.60px,482.00px) rotate(.05deg) scaleX(0.915)">-</span> <span class="c" style="transform:translate(519.40px,482.00px) rotate(.05deg) scaleX(0.915)">-</span> <span class="c" style="transform:translate(569.90px,482.00px) rotate(.05deg) scaleX(0.915)">N</span> <span class="c" style="transform:translate(626.10px,482.00px) rotate(.05deg) scaleX(0.915)">N</span>
<span class="n" style="transform:translate(8.20px,491.00px) rotate(.05deg) scaleX(0.915)">Tenn.</span> <span class="c" style="transform:translate(107.20px,491.00px) rotate(.05deg) scaleX(0.915)">2</span> <span class="c" style="transform:translate(161.40px,491.00px) rotate(.05deg) scaleX(0.915)">-</span> <span class="c" style="transform:translate(224.70px,491.00px) rotate(.05deg) scaleX(0.915)">-</span> <span class="c" style="transform:translate(286.00px,491.00px) rotate(.05deg) scaleX(0.915)">-</span> <span class="c" style="transform:translate(341.30px,491.00px) rotate(.05deg) scaleX(0.915)">1</span> <span class="c" style="transform:translate(401.30px,491.00px) rotate(.05deg) scaleX(0.915)">-</span> <span class="c" style="transform:translate(458.60px,491.00px) rotate(.05deg) scaleX(0.915)">-</span> <span class="c" style="transform:translate(519.40px,491.00px) rotate(.05deg) scaleX(0.915)">-</span> <span class="c" style="transform:translate(569.90px,491.00px) rotate(.05deg) scaleX(0.915)">N</span> <span class="c" style="transform:translate(626.10px,491.00px) rotate(.05deg) scaleX(0.915)">N</span>
<span class="n" style="transform:translate(8.20px,501.00px) rotate(.05deg) scaleX(0.915)">Ala.</span> <span class="c" style="transform:translate(107.20px,501.00px) rotate(.05deg) scaleX(0.915)">7</span> <span class="c" style="transform:translate(161.10px,501.00px) rotate(.05deg) scaleX(0.915)">10</span> <span class="c" style="transform:translate(224.40px,501.00px) rotate(.05deg) scaleX(0.915)">10</span> <span class="c" style="transform:translate(285.70px,501.00px) rotate(.05deg) scaleX(0.915)">5</span> <span class="c" style="transform:translate(341.60px,501.00px) rotate(.05deg) scaleX(0.915)">-</span> <span class="c" style="transform:translate(401.30px,501.00px) rotate(.05deg) scaleX(0.915)">-</span> <span class="c" style="transform:translate(458.60px,501.00px) rotate(.05deg) scaleX(0.915)">-</span> <span class="c" style="transform:translate(519.40px,501.00px) rotate(.05deg) scaleX(0.915)">-</span> <span class="c" style="transform:translate(569.90px,501.00px) rotate(.05deg) scaleX(0.915)">N</span> <span class="c" style="transform:translate(626.10px,501.00px) rotate(.05deg) scaleX(0.915)">N</span>
<span class="n" style="transform:translate(8.20px,510.00px) rotate(.05deg) scaleX(0.915)">Miss.</span> <span class="c" style="transform:translate(107.20px,510.00px) rotate(.05deg) scaleX(0.915)">1</span> <span class="c" style="transform:translate(161.10px,510.00px) rotate(.05deg) scaleX(0.915)">10</span> <span class="c" style="transform:translate(224.70px,510.00px) rotate(.05deg) scaleX(0.915)">-</span> <span class="c" style="transform:translate(285.70px,510.00px) rotate(.05deg) scaleX(0.915)">5</span> <span class="c" style="transform:translate(341.60px,510.00px) rotate(.05deg) scaleX(0.915)">-</span> <span class="c" style="transform:translate(401.30px,510.00px) rotate(.05deg) scaleX(0.915)">-</span> <span class="c" style="transform:translate(458.60px,510.00px) rotate(.05deg) scaleX(0.915)">-</span> <span class="c" style="transform:translate(519.40px,510.00px) rotate(.05deg) scaleX(0.915)">-</span> <span class="c" style="transform:translate(570.20px,510.00px) rotate(.05deg) scaleX(0.915)">-</span> <span class="c" style="transform:translate(626.40px,510.00px) rotate(.05deg) scaleX(0.915)">-</span>
<span class="n" style="transform:translate(8.20px,524.00px) rotate(.05deg) scaleX(0.915);letter-spacing:0.040px">W.S. CENTRAL</span> <span class="c" style="transform:translate(107.50px,524.00px) rotate(.05deg) scaleX(0.915)">-</span> <span class="c" style="transform:translate(161.10px,524.00px) rotate(.05deg) scaleX(0.915)">29</span> <span class="c" style="transform:translate(224.70px,524.00px) rotate(.05deg) scaleX(0.915)">-</span> <span class="c" style="transform:translate(285.70px,524.00px) rotate(.05deg) scaleX(0.915)">7</span> <span class="c" style="transform:translate(341.60px,524.00px) rotate(.05deg) scaleX(0.915)">-</span> <span class="c" style="transform:translate(401.00px,524.00px) rotate(.05deg) scaleX(0.915)">3</span> <span class="c" style="transform:translate(458.60px,524.00px) rotate(.05deg) scaleX(0.915)">-</span> <span class="c" style="transform:translate(519.40px,524.00px) rotate(.05deg) scaleX(0.915)">-</span> <span class="c" style="transform:translate(570.20px,524.00px) rotate(.05deg) scaleX(0.915)">-</span> <span class="c" style="transform:translate(626.40px,524.00px) rotate(.05deg) scaleX(0.915)">-</span>
<span class="n" style="transform:translate(8.20px,534.00px) rotate(.05deg) scaleX(0.915)">Ark.</span> <span class="c" style="transform:translate(107.50px,534.00px) rotate(.05deg) scaleX(0.915)">-</span> <span class="c" style="transform:translate(161.40px,534.00px) rotate(.05deg) scaleX(0.915)">-</span> <span class="c" style="transform:translate(224.70px,534.00px) rotate(.05deg) scaleX(0.915)">-</span> <span class="c" style="transform:translate(286.00px,534.00px) rotate(.05deg) scaleX(0.915)">-</span> <span class="c" style="transform:translate(341.60px,534.00px) rotate(.05deg) scaleX(0.915)">-</span> <span class="c" style="transform:translate(401.30px,534.00px) rotate(.05deg) scaleX(0.915)">-</span> <span class="c" style="transform:translate(458.60px,534.00px) rotate(.05deg) scaleX(0.915)">-</span> <span class="c" style="transform:translate(519.40px,534.00px) rotate(.05deg) scaleX(0.915)">-</span> <span class="c" style="transform:translate(570.20px,534.00px) rotate(.05deg) scaleX(0.915)">-</span> <span class="c" style="transform:translate(626.40px,534.00px) rotate(.05deg) scaleX(0.915)">-</span>
<span class="n" style="transform:translate(8.20px,543.00px) rotate(.05deg) scaleX(0.915)">La.</span> <span class="c" style="transform:translate(107.50px,543.00px) rotate(.05deg) scaleX(0.915)">-</span> <span class="c" style="transform:translate(161.10px,543.00px) rotate(.05deg) scaleX(0.915)">2</span> <span class="c" style="transform:translate(224.70px,543.00px) rotate(.05deg) scaleX(0.915)">-</span> <span class="c" style="transform:translate(286.00px,543.00px) rotate(.05deg) scaleX(0.915)">-</span> <span class="c" style="transform:translate(341.60px,543.00px) rotate(.05deg) scaleX(0.915)">-</span> <span class="c" style="transform:translate(401.30px,543.00px) rotate(.05deg) scaleX(0.915)">-</span> <span class="c" style="transform:translate(458.60px,543.00px) rotate(.05deg) scaleX(0.915)">-</span> <span class="c" style="transform:translate(519.40px,543.00px) rotate(.05deg) scaleX(0.915)">-</span> <span class="c" style="transform:translate(570.20px,543.00px) rotate(.05deg) scaleX(0.915)">-</span> <span class="c" style="transform:translate(626.40px,543.00px) rotate(.05deg) scaleX(0.915)">-</span>
<span class="n" style="transform:translate(8.20px,552.00px) rotate(.05deg) scaleX(0.915)">Okla.</span> <span class="c" style="transform:translate(107.50px,552.00px) rotate(.05deg) scaleX(0.915)">-</span> <span class="c" style="transform:translate(161.40px,552.00px) rotate(.05deg) scaleX(0.915)">-</span> <span class="c" style="transform:translate(224.70px,552.00px) rotate(.05deg) scaleX(0.915)">-</span> <span class="c" style="transform:translate(286.00px,552.00px) rotate(.05deg) scaleX(0.915)">-</span> <span class="c" style="transform:translate(341.60px,552.00px) rotate(.05deg) scaleX(0.915)">-</span> <span class="c" style="transform:translate(401.30px,552.00px) rotate(.05deg) scaleX(0.915)">-</span> <span class="c" style="transform:translate(458.30px,552.00px) rotate(.05deg) scaleX(0.915)">N</span> <span class="c" style="transform:translate(519.10px,552.00px) rotate(.05deg) scaleX(0.915)">N</span> <span class="c" style="transform:translate(570.20px,552.00px) rotate(.05deg) scaleX(0.915)">-</span> <span class="c" style="transform:translate(626.40px,552.00px) rotate(.05deg) scaleX(0.915)">-</span>
<span class="n" style="transform:translate(8.20px,562.00px) rotate(.05deg) scaleX(0.915)">Tex.</span> <span class="c" style="transform:translate(107.50px,562.00px) rotate(.05deg) scaleX(0.915)">-</span> <span class="c" style="transform:translate(161.10px,562.00px) rotate(.05deg) scaleX(0.915)">27</span> <span class="c" style="transform:translate(224.70px,562.00px) rotate(.05deg) scaleX(0.915)">-</span> <span class="c" style="transform:translate(285.70px,562.00px) rotate(.05deg) scaleX(0.915)">7</span> <span class="c" style="transform:translate(341.60px,562.00px) rotate(.05deg) scaleX(0.915)">-</span> <span class="c" style="transform:translate(401.00px,562.00px) rotate(.05deg) scaleX(0.915)">3</span> <span class="c" style="transform:translate(458.30px,562.00px) rotate(.05deg) scaleX(0.915)">N</span> <span class="c" style="transform:translate(519.10px,562.00px) rotate(.05deg) scaleX(0.915)">N</span> <span class="c" style="transform:translate(570.20px,562.00px) rotate(.05deg) scaleX(0.915)">-</span> <span class="c" style="transform:translate(626.40px,562.00px) rotate(.05deg) scaleX(0.915)">-</span>
<span class="n" style="transform:translate(8.20px,576.00px) rotate(.05deg) scaleX(0.915)">MOUNTAIN</span> <span class="c" style="transform:translate(107.20px,576.00px) rotate(.05deg) scaleX(0.915)">9</span> <span class="c" style="transform:translate(161.10px,576.00px) rotate(.05deg) scaleX(0.915)">5</span> <span class="c" style="transform:translate(224.70px,576.00px) rotate(.05deg) scaleX(0.915)">-</span> <span class="c" style="transform:translate(285.70px,576.00px) rotate(.05deg) scaleX(0.915)">1</span> <span class="c" style="transform:translate(341.30px,576.00px) rotate(.05deg) scaleX(0.915)">4</span> <span class="c" style="transform:translate(401.00px,576.00px) rotate(.05deg) scaleX(0.915)">4</span> <span class="c" style="transform:translate(458.30px,576.00px) rotate(.05deg) scaleX(0.915)">1</span> <span class="c" style="transform:translate(519.10px,576.00px) rotate(.05deg) scaleX(0.915)">1</span> <span class="c" style="transform:translate(570.20px,576.00px) rotate(.05deg) scaleX(0.915)">-</span> <span class="c" style="transform:translate(626.40px,576.00px) rotate(.05deg) scaleX(0.915)">-</span>
<span class="n" style="transform:translate(8.20px,585.00px) rotate(.05deg) scaleX(0.915)">Mont.</span> <span class="c" style="transform:translate(107.20px,585.00px) rotate(.05deg) scaleX(0.915)">1</span> <span class="c" style="transform:translate(161.40px,585.00px) rotate(.05deg) scaleX(0.915)">-</span> <span class="c" style="transform:translate(224.70px,585.00px) rotate(.05deg) scaleX(0.915)">-</span> <span class="c" style="transform:translate(286.00px,585.00px) rotate(.05deg) scaleX(0.915)">-</span> <span class="c" style="transform:translate(341.60px,585.00px) rotate(.05deg) scaleX(0.915)">-</span> <span class="c" style="transform:translate(401.30px,585.00px) rotate(.05deg) scaleX(0.915)">-</span> <span class="c" style="transform:translate(458.60px,585.00px) rotate(.05deg) scaleX(0.915)">-</span> <span class="c" style="transform:translate(519.40px,585.00px) rotate(.05deg) scaleX(0.915)">-</span> <span class="c" style="transform:translate(570.20px,585.00px) rotate(.05deg) scaleX(0.915)">-</span> <span class="c" style="transform:translate(626.40px,585.00px) rotate(.05deg) scaleX(0.915)">-</span>
<span class="n" style="transform:translate(8.20px,595.00px) rotate(.05deg) scaleX(0.915)">Idaho</span> <span class="c" style="transform:translate(107.50px,595.00px) rotate(.05deg) scaleX(0.915)">-</span> <span class="c" style="transform:translate(161.40px,595.00px) rotate(.05deg) scaleX(0.915)">-</span> <span class="c" style="transform:translate(224.70px,595.00px) rotate(.05deg) scaleX(0.915)">-</span> <span class="c" style="transform:translate(286.00px,595.00px) rotate(.05deg) scaleX(0.915)">-</span> <span class="c" style="transform:translate(341.60px,595.00px) rotate(.05deg) scaleX(0.915)">-</span> <span class="c" style="transform:translate(401.30px,595.00px) rotate(.05deg) scaleX(0.915)">-</span> <span class="c" style="transform:translate(458.30px,595.00px) rotate(.05deg) scaleX(0.915)">N</span> <span class="c" style="transform:translate(519.10px,595.00px) rotate(.05deg) scaleX(0.915)">N</span> <span class="c" style="transform:translate(569.90px,595.00px) rotate(.05deg) scaleX(0.915)">N</span> <span class="c" style="transform:translate(626.10px,595.00px) rotate(.05deg) scaleX(0.915)">N</span>
<span class="n" style="transform:translate(8.20px,604.00px) rotate(.05deg) scaleX(0.915)">Wyo.</span> <span class="c" style="transform:translate(107.50px,604.00px) rotate(.05deg) scaleX(0.915)">-</span> <span class="c" style="transform:translate(161.40px,604.00px) rotate(.05deg) scaleX(0.915)">-</span> <span class="c" style="transform:translate(224.70px,604.00px) rotate(.05deg) scaleX(0.915)">-</span> <span class="c" style="transform:translate(286.00px,604.00px) rotate(.05deg) scaleX(0.915)">-</span> <span class="c" style="transform:translate(341.60px,604.00px) rotate(.05deg) scaleX(0.915)">-</span> <span class="c" style="transform:translate(401.30px,604.00px) rotate(.05deg) scaleX(0.915)">-</span> <span class="c" style="transform:translate(458.60px,604.00px) rotate(.05deg) scaleX(0.915)">-</span> <span class="c" style="transform:translate(519.40px,604.00px) rotate(.05deg) scaleX(0.915)">-</span> <span class="c" style="transform:translate(570.20px,604.00px) rotate(.05deg) scaleX(0.915)">-</span> <span class="c" style="transform:translate(626.40px,604.00px) rotate(.05deg) scaleX(0.915)">-</span>
<span class="n" style="transform:translate(8.20px,614.00px) rotate(.05deg) scaleX(0.915)">Colo.</span> <span class="c" style="transform:translate(107.20px,614.00px) rotate(.05deg) scaleX(0.915)">4</span> <span class="c" style="transform:translate(161.10px,614.00px) rotate(.05deg) scaleX(0.915)">3</span> <span class="c" style="transform:translate(224.70px,614.00px) rotate(.05deg) scaleX(0.915)">-</span> <span class="c" style="transform:translate(286.00px,614.00px) rotate(.05deg) scaleX(0.915)">-</span> <span class="c" style="transform:translate(341.30px,614.00px) rotate(.05deg) scaleX(0.915)">1</span> <span class="c" style="transform:translate(401.00px,614.00px) rotate(.05deg) scaleX(0.915)">1</span> <span class="c" style="transform:translate(458.60px,614.00px) rotate(.05deg) scaleX(0.915)">-</span> <span class="c" style="transform:translate(519.40px,614.00px) rotate(.05deg) scaleX(0.915)">-</span> <span class="c" style="transform:translate(570.20px,614.00px) rotate(.05deg) scaleX(0.915)">-</span> <span class="c" style="transform:translate(626.40px,614.00px) rotate(.05deg) scaleX(0.915)">-</span>
<span class="n" style="transform:translate(8.20px,623.00px) rotate(.05deg) scaleX(0.915);word-spacing:-0.87px">N. Mex.</span> <span class="c" style="transform:translate(107.20px,623.00px) rotate(.05deg) scaleX(0.915)">4</span> <span class="c" style="transform:translate(161.40px,623.00px) rotate(.05deg) scaleX(0.915)">-</span> <span class="c" style="transform:translate(224.70px,623.00px) rotate(.05deg) scaleX(0.915)">-</span> <span class="c" style="transform:translate(285.70px,623.00px) rotate(.05deg) scaleX(0.915)">1</span> <span class="c" style="transform:translate(341.30px,623.00px) rotate(.05deg) scaleX(0.915)">1</span> <span class="c" style="transform:translate(401.00px,623.00px) rotate(.05deg) scaleX(0.915)">3</span> <span class="c" style="transform:translate(458.30px,623.00px) rotate(.05deg) scaleX(0.915)">1</span> <span class="c" style="transform:translate(519.10px,623.00px) rotate(.05deg) scaleX(0.915)">1</span> <span class="c" style="transform:translate(570.20px,623.00px) rotate(.05deg) scaleX(0.915)">-</span> <span class="c" style="transform:translate(626.40px,623.00px) rotate(.05deg) scaleX(0.915)">-</span>
<span class="n" style="transform:translate(8.20px,632.00px) rotate(.05deg) scaleX(0.915)">Ariz.</span> <span class="c" style="transform:translate(107.50px,632.00px) rotate(.05deg) scaleX(0.915)">-</span> <span class="c" style="transform:translate(161.40px,632.00px) rotate(.05deg) scaleX(0.915)">-</span> <span class="c" style="transform:translate(224.70px,632.00px) rotate(.05deg) scaleX(0.915)">-</span> <span class="c" style="transform:translate(286.00px,632.00px) rotate(.05deg) scaleX(0.915)">-</span> <span class="c" style="transform:translate(341.30px,632.00px) rotate(.05deg) scaleX(0.915)">2</span> <span class="c" style="transform:translate(401.30px,632.00px) rotate(.05deg) scaleX(0.915)">-</span> <span class="c" style="transform:translate(458.60px,632.00px) rotate(.05deg) scaleX(0.915)">-</span> <span class="c" style="transform:translate(519.40px,632.00px) rotate(.05deg) scaleX(0.915)">-</span> <span class="c" style="transform:translate(569.90px,632.00px) rotate(.05deg) scaleX(0.915)">N</span> <span class="c" style="transform:translate(626.10px,632.00px) rotate(.05deg) scaleX(0.915)">N</span>
<span class="n" style="transform:translate(8.20px,642.00px) rotate(.05deg) scaleX(0.915)">Utah</span> <span class="c" style="transform:translate(107.50px,642.00px) rotate(.05deg) scaleX(0.915)">-</span> <span class="c" style="transform:translate(161.40px,642.00px) rotate(.05deg) scaleX(0.915)">-</span> <span class="c" style="transform:translate(224.70px,642.00px) rotate(.05deg) scaleX(0.915)">-</span> <span class="c" style="transform:translate(286.00px,642.00px) rotate(.05deg) scaleX(0.915)">-</span> <span class="c" style="transform:translate(341.60px,642.00px) rotate(.05deg) scaleX(0.915)">-</span> <span class="c" style="transform:translate(401.30px,642.00px) rotate(.05deg) scaleX(0.915)">-</span> <span class="c" style="transform:translate(458.60px,642.00px) rotate(.05deg) scaleX(0.915)">-</span> <span class="c" style="transform:translate(519.40px,642.00px) rotate(.05deg) scaleX(0.915)">-</span> <span class="c" style="transform:translate(570.20px,642.00px) rotate(.05deg) scaleX(0.915)">-</span> <span class="c" style="transform:translate(626.40px,642.00px) rotate(.05deg) scaleX(0.915)">-</span>
<span class="n" style="transform:translate(8.20px,651.00px) rotate(.05deg) scaleX(0.915)">Nev.</span> <span class="c" style="transform:translate(107.50px,651.00px) rotate(.05deg) scaleX(0.915)">-</span> <span class="c" style="transform:translate(161.10px,651.00px) rotate(.05deg) scaleX(0.915)">2</span> <span class="c" style="transform:translate(224.70px,651.00px) rotate(.05deg) scaleX(0.915)">-</span> <span class="c" style="transform:translate(286.00px,651.00px) rotate(.05deg) scaleX(0.915)">-</span> <span class="c" style="transform:translate(341.60px,651.00px) rotate(.05deg) scaleX(0.915)">-</span> <span class="c" style="transform:translate(401.30px,651.00px) rotate(.05deg) scaleX(0.915)">-</span> <span class="c" style="transform:translate(458.60px,651.00px) rotate(.05deg) scaleX(0.915)">-</span> <span class="c" style="transform:translate(519.40px,651.00px) rotate(.05deg) scaleX(0.915)">-</span> <span class="c" style="transform:translate(570.20px,651.00px) rotate(.05deg) scaleX(0.915)">-</span> <span class="c" style="transform:translate(626.40px,651.00px) rotate(.05deg) scaleX(0.915)">-</span>
<span class="n" style="transform:translate(8.20px,666.00px) rotate(.05deg) scaleX(0.915)">PACIFIC</span> <span class="c" style="transform:translate(107.20px,666.00px) rotate(.05deg) scaleX(0.915)">3</span> <span class="c" style="transform:translate(161.10px,666.00px) rotate(.05deg) scaleX(0.915)">85</span> <span class="c" style="transform:translate(224.40px,666.00px) rotate(.05deg) scaleX(0.915)">2</span> <span class="c" style="transform:translate(285.70px,666.00px) rotate(.05deg) scaleX(0.915)">23</span> <span class="c" style="transform:translate(341.60px,666.00px) rotate(.05deg) scaleX(0.915)">-</span> <span class="c" style="transform:translate(401.00px,666.00px) rotate(.05deg) scaleX(0.915)">3</span> <span class="c" style="transform:translate(458.60px,666.00px) rotate(.05deg) scaleX(0.915)">-</span> <span class="c" style="transform:translate(519.40px,666.00px) rotate(.05deg) scaleX(0.915)">-</span> <span class="c" style="transform:translate(570.20px,666.00px) rotate(.05deg) scaleX(0.915)">-</span> <span class="c" style="transform:translate(626.40px,666.00px) rotate(.05deg) scaleX(0.915)">-</span>
<span class="n" style="transform:translate(8.20px,675.00px) rotate(.05deg) scaleX(0.915)">Wash.</span> <span class="c" style="transform:translate(107.50px,675.00px) rotate(.05deg) scaleX(0.915)">-</span> <span class="c" style="transform:translate(161.40px,675.00px) rotate(.05deg) scaleX(0.915)">-</span> <span class="c" style="transform:translate(224.70px,675.00px) rotate(.05deg) scaleX(0.915)">-</span> <span class="c" style="transform:translate(286.00px,675.00px) rotate(.05deg) scaleX(0.915)">-</span> <span class="c" style="transform:translate(341.60px,675.00px) rotate(.05deg) scaleX(0.915)">-</span> <span class="c" style="transform:translate(401.30px,675.00px) rotate(.05deg) scaleX(0.915)">-</span> <span class="c" style="transform:translate(458.60px,675.00px) rotate(.05deg) scaleX(0.915)">-</span> <span class="c" style="transform:translate(519.40px,675.00px) rotate(.05deg) scaleX(0.915)">-</span> <span class="c" style="transform:translate(569.90px,675.00px) rotate(.05deg) scaleX(0.915)">N</span> <span class="c" style="transform:translate(626.10px,675.00px) rotate(.05deg) scaleX(0.915)">N</span>
<span class="n" style="transform:translate(8.20px,684.00px) rotate(.05deg) scaleX(0.915)">Oreg.</span> <span class="c" style="transform:translate(107.50px,684.00px) rotate(.05deg) scaleX(0.915)">-</span> <span class="c" style="transform:translate(161.10px,684.00px) rotate(.05deg) scaleX(0.915)">7</span> <span class="c" style="transform:translate(224.70px,684.00px) rotate(.05deg) scaleX(0.915)">-</span> <span class="c" style="transform:translate(286.00px,684.00px) rotate(.05deg) scaleX(0.915)">-</span> <span class="c" style="transform:translate(341.30px,684.00px) rotate(.05deg) scaleX(0.915)">N</span> <span class="c" style="transform:translate(401.00px,684.00px) rotate(.05deg) scaleX(0.915)">N</span> <span class="c" style="transform:translate(458.30px,684.00px) rotate(.05deg) scaleX(0.915)">N</span> <span class="c" style="transform:translate(519.10px,684.00px) rotate(.05deg) scaleX(0.915)">N</span> <span class="c" style="transform:translate(569.90px,684.00px) rotate(.05deg) scaleX(0.915)">N</span> <span class="c" style="transform:translate(626.10px,684.00px) rotate(.05deg) scaleX(0.915)">N</span>
<span class="n" style="transform:translate(8.20px,694.00px) rotate(.05deg) scaleX(0.915)">Calif.</span> <span class="c" style="transform:translate(107.50px,694.00px) rotate(.05deg) scaleX(0.915)">-</span> <span class="c" style="transform:translate(161.10px,694.00px) rotate(.05deg) scaleX(0.915)">74</span> <span class="c" style="transform:translate(224.70px,694.00px) rotate(.05deg) scaleX(0.915)">-</span> <span class="c" style="transform:translate(285.70px,694.00px) rotate(.05deg) scaleX(0.915)">23</span> <span class="c" style="transform:translate(341.60px,694.00px) rotate(.05deg) scaleX(0.915)">-</span> <span class="c" style="transform:translate(401.00px,694.00px) rotate(.05deg) scaleX(0.915)">2</span> <span class="c" style="transform:translate(458.30px,694.00px) rotate(.05deg) scaleX(0.915)">N</span> <span class="c" style="transform:translate(519.10px,694.00px) rotate(.05deg) scaleX(0.915)">N</span> <span class="c" style="transform:translate(569.90px,694.00px) rotate(.05deg) scaleX(0.915)">N</span> <span class="c" style="transform:translate(626.10px,694.00px) rotate(.05deg) scaleX(0.915)">N</span>
<span class="n" style="transform:translate(8.20px,703.00px) rotate(.05deg) scaleX(0.915)">Alaska</span> <span class="c" style="transform:translate(107.50px,703.00px) rotate(.05deg) scaleX(0.915)">-</span> <span class="c" style="transform:translate(161.10px,703.00px) rotate(.05deg) scaleX(0.915)">1</span> <span class="c" style="transform:translate(224.70px,703.00px) rotate(.05deg) scaleX(0.915)">-</span> <span class="c" style="transform:translate(286.00px,703.00px) rotate(.05deg) scaleX(0.915)">-</span> <span class="c" style="transform:translate(341.60px,703.00px) rotate(.05deg) scaleX(0.915)">-</span> <span class="c" style="transform:translate(401.30px,703.00px) rotate(.05deg) scaleX(0.915)">-</span> <span class="c" style="transform:translate(458.60px,703.00px) rotate(.05deg) scaleX(0.915)">-</span> <span class="c" style="transform:translate(519.40px,703.00px) rotate(.05deg) scaleX(0.915)">-</span> <span class="c" style="transform:translate(569.90px,703.00px) rotate(.05deg) scaleX(0.915)">N</span> <span class="c" style="transform:translate(626.10px,703.00px) rotate(.05deg) scaleX(0.915)">N</span>
<span class="n" style="transform:translate(8.20px,712.00px) rotate(.05deg) scaleX(0.915)">Hawaii</span> <span class="c" style="transform:translate(107.20px,712.00px) rotate(.05deg) scaleX(0.915)">3</span> <span class="c" style="transform:translate(161.10px,712.00px) rotate(.05deg) scaleX(0.915)">3</span> <span class="c" style="transform:translate(224.40px,712.00px) rotate(.05deg) scaleX(0.915)">2</span> <span class="c" style="transform:translate(286.00px,712.00px) rotate(.05deg) scaleX(0.915)">-</span> <span class="c" style="transform:translate(341.60px,712.00px) rotate(.05deg) scaleX(0.915)">-</span> <span class="c" style="transform:translate(401.00px,712.00px) rotate(.05deg) scaleX(0.915)">1</span> <span class="c" style="transform:translate(458.60px,712.00px) rotate(.05deg) scaleX(0.915)">-</span> <span class="c" style="transform:translate(519.40px,712.00px) rotate(.05deg) scaleX(0.915)">-</span> <span class="c" style="transform:translate(570.20px,712.00px) rotate(.05deg) scaleX(0.915)">-</span> <span class="c" style="transform:translate(626.40px,712.00px) rotate(.05deg) scaleX(0.915)">-</span>
<span class="n" style="transform:translate(8.20px,727.00px) rotate(.05deg) scaleX(0.915)">Guam</span> <span class="c" style="transform:translate(107.50px,727.00px) rotate(.05deg) scaleX(0.915)">-</span> <span class="c" style="transform:translate(161.40px,727.00px) rotate(.05deg) scaleX(0.915)">-</span> <span class="c" style="transform:translate(224.70px,727.00px) rotate(.05deg) scaleX(0.915)">-</span> <span class="c" style="transform:translate(286.00px,727.00px) rotate(.05deg) scaleX(0.915)">-</span> <span class="c" style="transform:translate(341.60px,727.00px) rotate(.05deg) scaleX(0.915)">-</span> <span class="c" style="transform:translate(401.30px,727.00px) rotate(.05deg) scaleX(0.915)">-</span> <span class="c" style="transform:translate(458.60px,727.00px) rotate(.05deg) scaleX(0.915)">-</span> <span class="c" style="transform:translate(519.40px,727.00px) rotate(.05deg) scaleX(0.915)">-</span> <span class="c" style="transform:translate(570.20px,727.00px) rotate(.05deg) scaleX(0.915)">-</span> <span class="c" style="transform:translate(626.40px,727.00px) rotate(.05deg) scaleX(0.915)">-</span>
<span class="n" style="transform:translate(8.20px,736.00px) rotate(.05deg) scaleX(0.915)">P.R.</span> <span class="c" style="transform:translate(107.50px,736.00px) rotate(.05deg) scaleX(0.915)">-</span> <span class="c" style="transform:translate(161.10px,736.00px) rotate(.05deg) scaleX(0.915)">1</span> <span class="c" style="transform:translate(224.70px,736.00px) rotate(.05deg) scaleX(0.915)">-</span> <span class="c" style="transform:translate(286.00px,736.00px) rotate(.05deg) scaleX(0.915)">-</span> <span class="c" style="transform:translate(341.30px,736.00px) rotate(.05deg) scaleX(0.915)">N</span> <span class="c" style="transform:translate(401.00px,736.00px) rotate(.05deg) scaleX(0.915)">N</span> <span class="c" style="transform:translate(458.60px,736.00px) rotate(.05deg) scaleX(0.915)">-</span> <span class="c" style="transform:translate(519.40px,736.00px) rotate(.05deg) scaleX(0.915)">-</span> <span class="c" style="transform:translate(569.90px,736.00px) rotate(.05deg) scaleX(0.915)">N</span> <span class="c" style="transform:translate(626.10px,736.00px) rotate(.05deg) scaleX(0.915)">N</span>
<span class="n" style="transform:translate(8.20px,745.00px) rotate(.05deg) scaleX(0.915)">V.I.</span> <span class="c" style="transform:translate(107.50px,745.00px) rotate(.05deg) scaleX(0.915)">-</span> <span class="c" style="transform:translate(161.40px,745.00px) rotate(.05deg) scaleX(0.915)">-</span> <span class="c" style="transform:translate(224.70px,745.00px) rotate(.05deg) scaleX(0.915)">-</span> <span class="c" style="transform:translate(286.00px,745.00px) rotate(.05deg) scaleX(0.915)">-</span> <span class="c" style="transform:translate(341.60px,745.00px) rotate(.05deg) scaleX(0.915)">-</span> <span class="c" style="transform:translate(401.30px,745.00px) rotate(.05deg) scaleX(0.915)">-</span> <span class="c" style="transform:translate(458.60px,745.00px) rotate(.05deg) scaleX(0.915)">-</span> <span class="c" style="transform:translate(519.40px,745.00px) rotate(.05deg) scaleX(0.915)">-</span> <span class="c" style="transform:translate(570.20px,745.00px) rotate(.05deg) scaleX(0.915)">-</span> <span class="c" style="transform:translate(626.40px,745.00px) rotate(.05deg) scaleX(0.915)">-</span>
<span class="n" style="transform:translate(8.20px,755.00px) rotate(.05deg) scaleX(0.915)">Amer. Samoa</span> <span class="c" style="transform:translate(107.20px,755.00px) rotate(.05deg) scaleX(0.915)">U</span> <span class="c" style="transform:translate(161.10px,755.00px) rotate(.05deg) scaleX(0.915)">U</span> <span class="c" style="transform:translate(224.40px,755.00px) rotate(.05deg) scaleX(0.915)">U</span> <span class="c" style="transform:translate(285.70px,755.00px) rotate(.05deg) scaleX(0.915)">U</span> <span class="c" style="transform:translate(341.30px,755.00px) rotate(.05deg) scaleX(0.915)">U</span> <span class="c" style="transform:translate(401.00px,755.00px) rotate(.05deg) scaleX(0.915)">U</span> <span class="c" style="transform:translate(458.30px,755.00px) rotate(.05deg) scaleX(0.915)">U</span> <span class="c" style="transform:translate(519.10px,755.00px) rotate(.05deg) scaleX(0.915)">U</span> <span class="c" style="transform:translate(569.90px,755.00px) rotate(.05deg) scaleX(0.915)">U</span> <span class="c" style="transform:translate(626.10px,755.00px) rotate(.05deg) scaleX(0.915)">U</span>
<span class="n" style="transform:translate(8.20px,764.00px) rotate(.05deg) scaleX(0.915)">C.N.M.I.</span> <span class="c" style="transform:translate(107.50px,764.00px) rotate(.05deg) scaleX(0.915)">-</span> <span class="c" style="transform:translate(161.10px,764.00px) rotate(.05deg) scaleX(0.915)">U</span> <span class="c" style="transform:translate(224.70px,764.00px) rotate(.05deg) scaleX(0.915)">-</span> <span class="c" style="transform:translate(285.70px,764.00px) rotate(.05deg) scaleX(0.915)">U</span> <span class="c" style="transform:translate(341.60px,764.00px) rotate(.05deg) scaleX(0.915)">-</span> <span class="c" style="transform:translate(401.00px,764.00px) rotate(.05deg) scaleX(0.915)">U</span> <span class="c" style="transform:translate(458.60px,764.00px) rotate(.05deg) scaleX(0.915)">-</span> <span class="c" style="transform:translate(519.10px,764.00px) rotate(.05deg) scaleX(0.915)">U</span> <span class="c" style="transform:translate(570.20px,764.00px) rotate(.05deg) scaleX(0.915)">-</span> <span class="c" style="transform:translate(626.10px,764.00px) rotate(.05deg) scaleX(0.915)">U</span>
<span class="f" style="transform:translate(7.90px,784.00px) rotate(.05deg) scaleX(0.915);letter-spacing:-.06px">N: Not notifiable.</span> <span class="f" style="transform:translate(98.50px,784.00px) rotate(.05deg) scaleX(0.915);letter-spacing:-.16px">U: Unavailable.</span> <span class="f" style="transform:translate(187.90px,784.00px) rotate(.05deg) scaleX(0.915)">- : No reported cases.</span>
<span class="f" style="transform:translate(10.00px,793.00px) rotate(.05deg) scaleX(0.915)">*</span> <span class="f" style="transform:translate(17.00px,793.00px) rotate(.03deg) scaleX(0.915);letter-spacing:.05px">Incidence data for reporting years 2002 and 2003 are provisional and cumulative (year-to-date).</span>
</body></html>
